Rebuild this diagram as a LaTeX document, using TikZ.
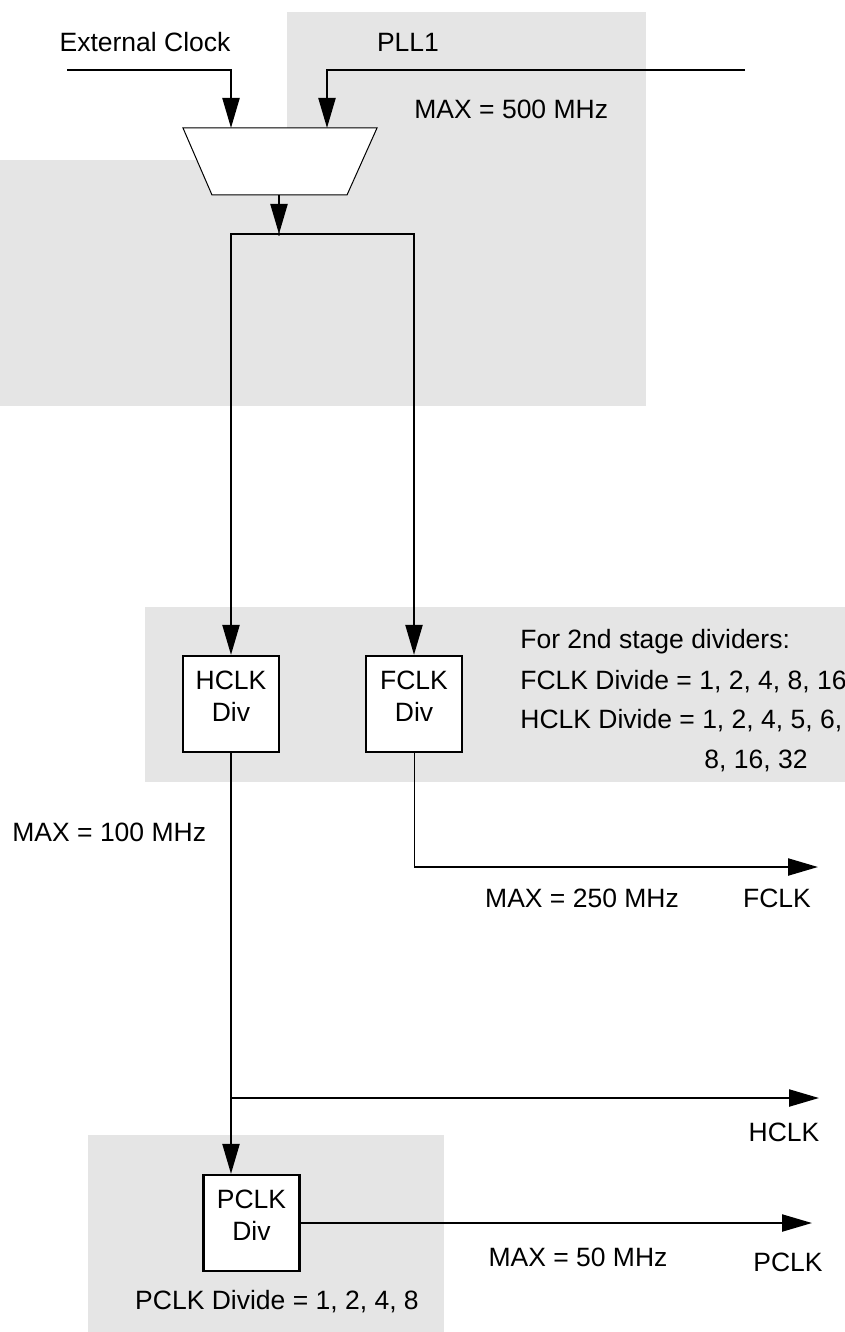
\documentclass[tikz,border=0pt]{standalone}
\usepackage{fontspec}
\setmainfont{Liberation Sans}
\usepackage{xcolor}
\usetikzlibrary{positioning,arrows.meta,calc}
\definecolor{zonegray}{RGB}{229,229,229}
\newcommand{\labelfont}{\fontsize{13.25}{16}\selectfont}
\tikzset{
  zone/.style={
    fill=zonegray,
    draw=none
  },
  clk wire/.style={
    line width=1.1pt,
    -{Triangle[length=15pt,width=8.5pt]}
  },
  thin wire/.style={
    line width=0.5pt
  },
  div box/.style={
    rectangle,
    draw,
    line width=1.1pt,
    fill=white,
    minimum width=48pt,
    minimum height=48pt,
    inner sep=0pt,
    align=center,
    text depth=8pt
  },
  mux line/.style={
    draw,
    line width=0.5pt,
    fill=white
  },
  note/.style={
    inner sep=0pt
  }
}

\begin{document}
\begin{tikzpicture}[x=0.5pt, y=-0.5pt, font=\labelfont]
  \useasboundingbox (0,0) rectangle (845,1332);

  % Shaded clock domains
  \fill[zone] (287,12) rectangle (646,406);
  \fill[zone] (0,160) rectangle (646,406);
  \fill[zone] (145,607) rectangle (845,782);
  \fill[zone] (88,1135) rectangle (444,1332);

  % Source select
  \coordinate (muxtl) at (183,128);
  \coordinate (muxtr) at (377,128);
  \coordinate (muxbr) at (347,195);
  \coordinate (muxbl) at (212,195);
  \coordinate (muxout) at (279,195);
  \draw[mux line] (muxtl) -- (muxtr) -- (muxbr) -- (muxbl) -- cycle;
  \coordinate (extin) at (67,70);
  \coordinate (extdrop) at (231,70);
  \coordinate (pllin) at (745,70);
  \coordinate (plldrop) at (327,70);
  \draw[clk wire] (extin) -- (extdrop) -- (extdrop |- muxtl);
  \draw[clk wire] (pllin) -- (plldrop) -- (plldrop |- muxtl);
  \node[note, anchor=base] (extlbl) at (145,52) {External Clock};
  \node[note, anchor=base] (plllbl) at (408,52) {PLL1};
  \node[note, anchor=base west] (pllmax) at (414,119) {MAX = 500 MHz};

  % Split to 2nd stage dividers
  \coordinate (split) at ($(muxout)+(0,39)$);
  \draw[clk wire] (muxout) -- (split);
  \fill (split) circle (0.9pt);
  \node[div box] (hdiv) at (231,704) {HCLK\\Div};
  \node[div box] (fdiv) at (414,704) {FCLK\\Div};
  \draw[clk wire] (split) -| (hdiv.north);
  \draw[clk wire] (split) -| (fdiv.north);
  \node[note, anchor=base west] (stagenote) at (520,648) {For 2nd stage dividers:};
  \node[note, anchor=base west] (fdivnote) at (520,689) {FCLK Divide = 1, 2, 4, 8, 16};
  \node[note, anchor=base west] (hdivnote) at (520,728) {HCLK Divide = 1, 2, 4, 5, 6,};
  \node[note, anchor=base west] (hdivmore) at (704,768) {8, 16, 32};

  % FCLK output
  \coordinate (fturn) at (414,867);
  \coordinate (fclkout) at (818,867);
  \draw[thin wire] (fdiv.south) -- (fturn);
  \draw[clk wire] (fturn) -- (fclkout);
  \node[note, anchor=base] (fmax) at (582,907) {MAX = 250 MHz};
  \node[note, anchor=base] (flbl) at (777,907) {FCLK};

  % HCLK output and PCLK divider
  \node[note, anchor=base west] (hmax) at (12,841) {MAX = 100 MHz};
  \node[div box] (pdiv) at (251.5,1223) {PCLK\\Div};
  \draw[clk wire] (hdiv.south) -- (hdiv.south |- pdiv.north);
  \coordinate (hclkout) at (819,1098);
  \coordinate (htap) at (hdiv.south |- hclkout);
  \draw[clk wire] (htap) -- (hclkout);
  \node[note, anchor=base] (hlbl) at (784,1141) {HCLK};

  % PCLK output
  \coordinate (pclkout) at (812,1223);
  \draw[clk wire] (pdiv.east) -- (pclkout);
  \node[note, anchor=base] (pmax) at (578,1266) {MAX = 50 MHz};
  \node[note, anchor=base] (plbl) at (788,1271) {PCLK};
  \node[note, anchor=base] (pdivnote) at (277,1309) {PCLK Divide = 1, 2, 4, 8};
\end{tikzpicture}
\end{document}
